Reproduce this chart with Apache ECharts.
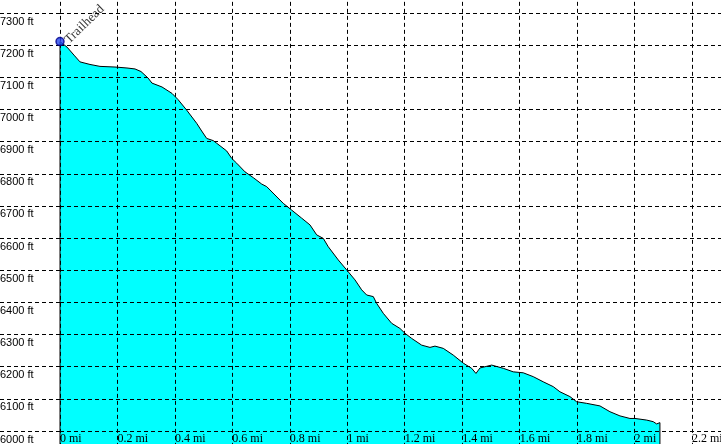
<!DOCTYPE html>
<html>
<head>
<meta charset="utf-8">
<script src="https://cdn.jsdelivr.net/npm/echarts@6/dist/echarts.min.js"></script>
<style>
  html, body { margin: 0; padding: 0; background: #ffffff; }
  #chart { width: 721px; height: 444px; }
</style>
</head>
<body>
<div id="chart"></div>
<script>
// ---- Data (distance in miles, elevation in feet) ----
const distances = [
  0.0000, 0.0244, 0.0487, 0.0696, 0.1044, 0.1392, 0.1914, 0.2332, 0.2611, 0.2819,
  0.3063, 0.3202, 0.3550, 0.3898, 0.4107, 0.4409, 0.4758, 0.4932, 0.5106, 0.5336,
  0.5454, 0.5802, 0.5976, 0.6150, 0.6439, 0.6728, 0.7021, 0.7195, 0.7484, 0.7772,
  0.8065, 0.8413, 0.8702, 0.8935, 0.9165, 0.9339, 0.9687, 0.9746, 0.9979, 1.0268,
  1.0501, 1.0675, 1.0905, 1.1023, 1.1253, 1.1545, 1.1834, 1.2008, 1.2241, 1.2590,
  1.2879, 1.3053, 1.3342, 1.3690, 1.4038, 1.4330, 1.4480, 1.4619, 1.5026, 1.5430,
  1.5778, 1.6126, 1.6474, 1.6822, 1.7170, 1.7403, 1.7751, 1.7984, 1.8333, 1.8796,
  1.9144, 1.9492, 1.9840, 2.0014, 2.0421, 2.0651, 2.0769, 2.0884
];
const elevations = [
  7211, 7194, 7169, 7148, 7140, 7134, 7132, 7129, 7126, 7118,
  7098, 7082, 7070, 7050, 7031, 6998, 6957, 6933, 6910, 6903,
  6895, 6871, 6848, 6833, 6806, 6788, 6768, 6760, 6734, 6708,
  6687, 6662, 6641, 6610, 6599, 6573, 6532, 6526, 6501, 6470,
  6439, 6423, 6418, 6397, 6366, 6335, 6319, 6304, 6288, 6267,
  6260, 6264, 6257, 6236, 6211, 6195, 6179, 6196, 6205, 6195,
  6184, 6181, 6169, 6153, 6138, 6122, 6107, 6091, 6086, 6078,
  6060, 6047, 6039, 6039, 6034, 6029, 6022, 6026
];
const waypointNames = ['Trailhead'];
const waypointDistances = [0];
const waypointElevations = [7211];

// Axis ticks
const xTickValues = [0, 0.2, 0.4, 0.6, 0.8, 1, 1.2, 1.4, 1.6, 1.8, 2, 2.2, 2.4];
const xUnit = 'mi';
const yTickValues = [5900, 6000, 6100, 6200, 6300, 6400, 6500, 6600, 6700, 6800, 6900, 7000, 7100, 7200, 7300, 7400];
const yUnit = 'ft';

// ---- Build ----
const xMin = xTickValues[0], xMax = xTickValues[xTickValues.length - 1];
const xStep = xTickValues[1] - xTickValues[0];
const yMin = yTickValues[0], yMax = yTickValues[yTickValues.length - 1];
const yStep = yTickValues[1] - yTickValues[0];

const profile = [[distances[0], yMin]];
for (let i = 0; i < distances.length; i++) profile.push([distances[i], elevations[i]]);
profile.push([distances[distances.length - 1], yMin]);

const waypoints = waypointNames.map((n, i) => ({ name: n, value: [waypointDistances[i], waypointElevations[i]] }));

const dash = { color: '#000000', width: 1, type: [4, 3] };
const gridTop = -19.15, gridBottom = -19.15;

const chart = echarts.init(document.getElementById('chart'), null, { renderer: 'canvas' });
chart.setOption({
  animation: false,
  backgroundColor: '#ffffff',
  grid: [
    { left: 60, right: -28.45, top: gridTop, bottom: gridBottom, containLabel: false, outerBoundsMode: 'none' },
    { left: 0, width: 60, top: gridTop, bottom: gridBottom, containLabel: false, outerBoundsMode: 'none' }
  ],
  xAxis: [
    {
      gridIndex: 0, type: 'value', min: xMin, max: xMax, interval: xStep,
      position: 'bottom', offset: -32.15, z: 10,
      axisLine: { show: false }, axisTick: { show: false },
      splitLine: { show: true, lineStyle: dash },
      axisLabel: {
        show: true, margin: 2, align: 'left', verticalAlign: 'top',
        fontFamily: 'Liberation Serif', fontSize: 12, color: '#000000',
        showMinLabel: true, showMaxLabel: true, hideOverlap: false,
        formatter: v => String(parseFloat(v.toFixed(2))) + ' ' + xUnit
      }
    },
    { gridIndex: 1, type: 'value', min: 0, max: 1, show: false }
  ],
  yAxis: [
    {
      gridIndex: 0, type: 'value', min: yMin, max: yMax, interval: yStep, z: 10,
      axisLine: { show: false }, axisTick: { show: false },
      splitLine: { show: true, lineStyle: dash },
      axisLabel: {
        show: true, margin: 60, align: 'left', verticalAlign: 'top',
        padding: [3, 0, 0, 0],
        fontFamily: 'Liberation Sans', fontSize: 11, color: '#000000',
        formatter: v => v + ' ' + yUnit
      }
    },
    {
      gridIndex: 1, type: 'value', min: yMin, max: yMax, interval: yStep, z: 10,
      axisLine: { show: false }, axisTick: { show: false }, axisLabel: { show: false },
      splitLine: { show: true, lineStyle: dash }
    }
  ],
  series: [
    {
      type: 'line', xAxisIndex: 0, yAxisIndex: 0, data: profile,
      showSymbol: false, symbol: 'none', smooth: false, z: 2,
      lineStyle: { color: '#000000', width: 1 },
      areaStyle: { color: '#00ffff', opacity: 1, origin: 'start' }
    },
    {
      type: 'scatter', xAxisIndex: 0, yAxisIndex: 0, data: waypoints, z: 20,
      symbol: 'circle', symbolSize: 8,
      itemStyle: { color: '#2244ee', borderColor: '#000088', borderWidth: 1.5 },
      label: {
        show: true, formatter: p => p.name, position: 'right', distance: 2,
        rotate: 44, align: 'left', verticalAlign: 'middle',
        fontFamily: 'Liberation Serif', fontSize: 13, color: '#000000'
      }
    }
  ]
});
</script>
</body>
</html>
